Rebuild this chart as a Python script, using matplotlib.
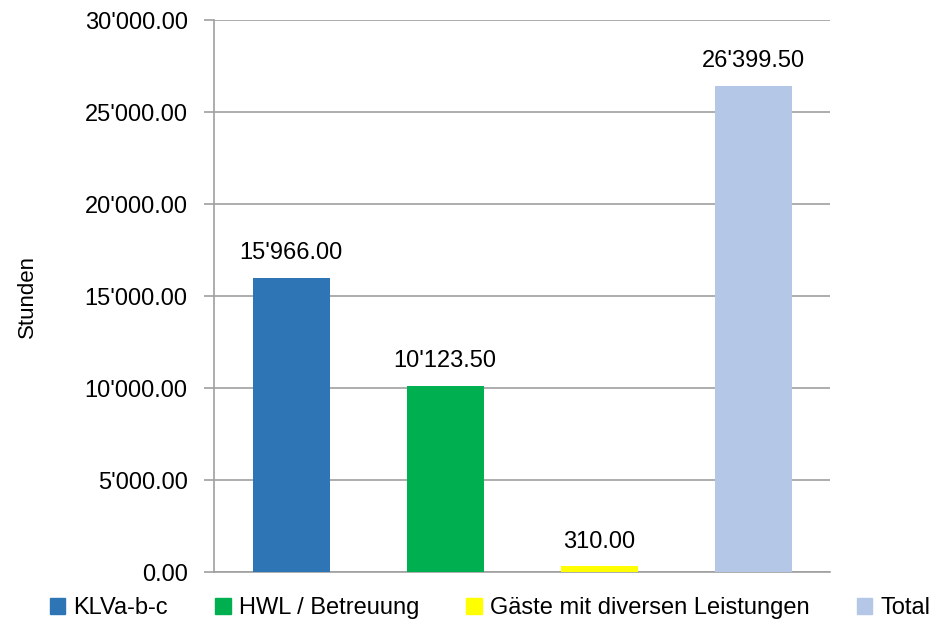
import matplotlib.pyplot as plt
from matplotlib.ticker import FuncFormatter
from matplotlib.patches import Patch

plt.rcParams['font.family'] = ['Liberation Sans Narrow', 'Liberation Sans', 'DejaVu Sans']

categories = ['KLVa-b-c', 'HWL / Betreuung', 'Gäste mit diversen Leistungen', 'Total']
values = [15966.00, 10123.50, 310.00, 26399.50]
colors = ['#2E75B6', '#00B050', '#FFFF00', '#B4C7E7']


def swiss(v, pos=None):
    s = '{:,.2f}'.format(v)
    return s.replace(',', "'")


fig = plt.figure(figsize=(9.39, 6.28), dpi=100)
ax = fig.add_axes([0.228, 0.089, 0.656, 0.879])

x = range(len(values))
ax.bar(x, values, width=0.5, color=colors, zorder=3)
for xi, v in zip(x, values):
    ax.annotate(swiss(v), (xi, v), xytext=(0, 10), textcoords='offset points',
                ha='center', va='bottom', fontsize=17)

ax.set_xlim(-0.5, 3.5)
ax.set_ylim(0, 30000)
ax.set_yticks(range(0, 30001, 5000))
ax.yaxis.set_major_formatter(FuncFormatter(swiss))
ax.tick_params(axis='y', labelsize=17, length=7, color='#A0A0A0', width=1.2, pad=12)
ax.tick_params(axis='x', bottom=False, labelbottom=False)
ax.grid(axis='y', color='#A0A0A0', linewidth=1.2, zorder=0)
for s in ['top', 'right']:
    ax.spines[s].set_visible(False)
for s in ['left', 'bottom']:
    ax.spines[s].set_color('#A0A0A0')
    ax.spines[s].set_linewidth(1.2)
ax.set_ylabel('Stunden', fontsize=16, labelpad=34)

handles = [Patch(color=c) for c in colors]
fig.legend(handles, categories, loc='center', bbox_to_anchor=(0.522, 1 - 608 / 628),
           ncol=4, frameon=False, fontsize=17, handlelength=0.65, handleheight=0.65,
           handletextpad=0.35, columnspacing=2.0, borderaxespad=0, borderpad=0)

fig.savefig('out.png', dpi=100)
